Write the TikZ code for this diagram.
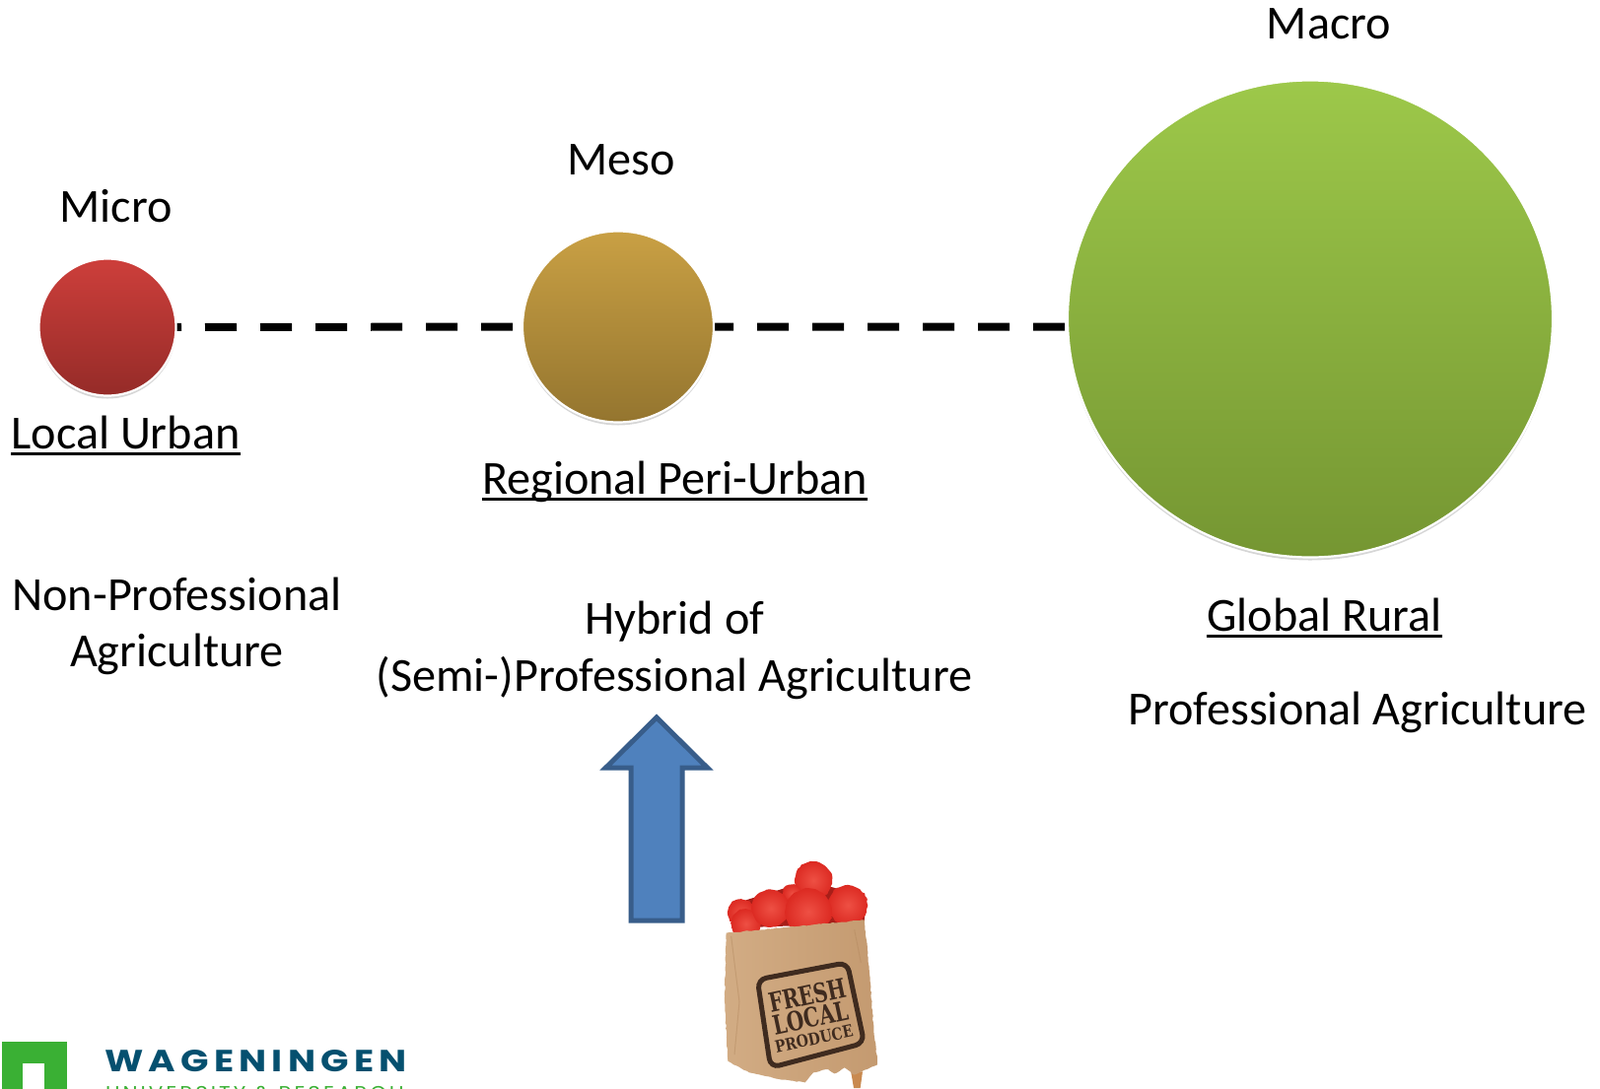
\documentclass[tikz,border=0pt]{standalone}
\usepackage{fontspec}
\setmainfont{Carlito}
\newfontfamily\logofont[LetterSpace=14]{Poppins}
\newfontfamily\stampfont{DejaVu Serif}
\usetikzlibrary{shapes.geometric,shadows,backgrounds,decorations.pathmorphing}
\definecolor{arrowfill}{HTML}{4F81BD}
\definecolor{arrowline}{HTML}{385D8A}
\definecolor{wurgreen}{HTML}{3AB034}
\definecolor{wurblue}{HTML}{05506F}
\definecolor{baglight}{HTML}{D2AC84}
\definecolor{bagmid}{HTML}{C49A70}
\definecolor{bagdark}{HTML}{A97F55}
\definecolor{bagtail}{HTML}{C98A50}
\definecolor{stampink}{HTML}{3F2B1F}
\definecolor{redtop}{HTML}{CD3F3B}
\definecolor{redbot}{HTML}{952B28}
\definecolor{ochretop}{HTML}{C9A044}
\definecolor{ochrebot}{HTML}{94752F}
\definecolor{greentop}{HTML}{9DC84A}
\definecolor{greenbot}{HTML}{759632}
\definecolor{berryin}{HTML}{EE5044}
\definecolor{berryout}{HTML}{DC2A22}
\definecolor{berrydeep}{HTML}{A81E18}
\newcommand{\ulx}[1]{\setbox0\hbox{#1}\rlap{\rule[-6.5pt]{\wd0}{2.8pt}}\box0}
\tikzset{
  x=1pt,y=-1pt,
  label text/.style={font=\fontsize{48.2}{54}\selectfont,anchor=base,inner sep=0pt,text=black},
  blob/.style={draw=white,line width=2.2pt,inner sep=0pt,
    drop shadow={shadow xshift=0pt,shadow yshift=-3pt,opacity=.16,fill=black}},
  dashline/.style={line width=8pt,dash pattern=on 32pt off 24pt,dash phase=13pt},
  berry/.style={circle,inner sep=0pt,decorate,decoration={random steps,segment length=3pt,amplitude=.7pt},
    shading=radial,inner color=berryin,outer color=berryout,draw=none},
  stamp text/.style={text=stampink,rotate=12,inner sep=0pt},
}
\begin{document}
\begin{tikzpicture}
\useasboundingbox (0,0) rectangle (1623,1104);
\clip (0,0) rectangle (1623,1104);
% circles
\node[blob,circle,minimum size=139pt,top color=redtop,bottom color=redbot] (micro) at (109,332) {};
\node[blob,circle,minimum size=194pt,top color=ochretop,bottom color=ochrebot] (meso) at (627,331.5) {};
\node[blob,ellipse,minimum width=492pt,minimum height=484pt,top color=greentop,bottom color=greenbot] (macro) at (1329,323.5) {};
\coordinate (macroin) at (meso -| macro.center);
\begin{scope}[on background layer]
\draw[dashline] (micro.center) -- (meso.center) -- (macroin);
\end{scope}
% labels
\node[label text] (lmacro) at (1348,39.5) {Macro};
\node[label text] (lmeso) at (630,177.5) {Meso};
\node[label text] (lmicro) at (117.5,225.5) {Micro};
\node[label text] (llocal) at (127.5,455.5) {\ulx{Local Urban}};
\node[label text] (lregional) at (684.5,501.5) {\ulx{Regional Peri-Urban}};
\node[label text] (lglobal) at (1343.5,640.5) {\ulx{Global Rural}};
\node[label text] (lnon1) at (179.5,619.5) {Non-Professional};
\node[label text] (lnon2) at (179.5,676.5) {Agriculture};
\node[label text] (lhyb1) at (684.5,643.5) {Hybrid of};
\node[label text] (lhyb2) at (684,701.5) {(Semi-)Professional Agriculture};
\node[label text] (lprof) at (1377,735.5) {Professional Agriculture};
% arrow
\draw[fill=arrowfill,draw=arrowline,line width=5pt,miter limit=4]
  (666,728) -- (717.5,779) -- (692,779) -- (692,934) -- (640,934) -- (640,779) -- (614.5,779) -- cycle;
% logo
\fill[wurgreen] (2,1057) rectangle (68,1110);
\fill[white] (23,1079) rectangle (45,1110);
\node[anchor=base west,inner sep=0pt,text=wurblue,font=\logofont\fontsize{31}{34}\selectfont\bfseries] (wur1) at (106,1087) {\scalebox{1.205}[1]{WAGENINGEN}};
\node[anchor=base west,inner sep=0pt,text=wurgreen,font=\logofont\fontsize{20}{24}\selectfont] (wur2) at (107,1116) {\scalebox{1.07}[1]{UNIVERSITY \& RESEARCH}};
% bag
\begin{scope}[shift={(700,850)},scale=1/3]
\fill[berrydeep] (125,275) -- (170,190) -- (300,150) -- (430,150) -- (535,180) -- (530,260) -- cycle;
\node[berry,minimum size=38pt] (b1) at (375,130) {};
\node[berry,minimum size=40pt] (b2) at (480,205) {};
\node[berry,minimum size=27pt] (b3) at (155,228) {};
\node[berry,minimum size=18pt] (b6) at (310,170) {};
\node[berry,minimum size=20pt,minimum width=30pt] (b7) at (170,262) {};
\node[berry,minimum size=38pt] (b4) at (245,215) {};
\node[berry,minimum size=47pt] (b5) at (360,225) {};
\fill[bagtail] (490,715) -- (525,712) -- (518,762) -- (498,762) -- cycle;
\shade[left color=baglight,right color=bagmid,decorate,decoration={random steps,segment length=3pt,amplitude=.5pt}]
  (110,290) -- (300,272) -- (530,250) -- (545,400) -- (560,600) -- (572,690)
  -- (500,722) -- (470,700) -- (440,718) -- (420,705) -- (375,715) -- (350,745)
  -- (270,735) -- (180,715) -- (115,680) -- (105,500) -- cycle;
\draw[bagdark,line width=1pt,opacity=.35] (125,300) -- (150,500) -- (135,660);
\draw[bagdark,line width=1pt,opacity=.3] (500,280) -- (520,380);
\draw[stampink,line width=5pt,rounded corners=9pt] (205,432) -- (478,380) -- (530,625) -- (245,700) -- cycle;
\node[stamp text,font=\stampfont\bfseries\fontsize{20}{22}\selectfont] (s1) at (357,480) {\scalebox{1}[1.35]{FRESH}};
\node[stamp text,font=\stampfont\bfseries\fontsize{20}{22}\selectfont] (s2) at (367,548) {\scalebox{1}[1.35]{LOCAL}};
\node[stamp text,font=\stampfont\bfseries\fontsize{14}{15}\selectfont] (s3) at (377,612) {\scalebox{1}[1.2]{PRODUCE}};
\end{scope}
\end{tikzpicture}
\end{document}
